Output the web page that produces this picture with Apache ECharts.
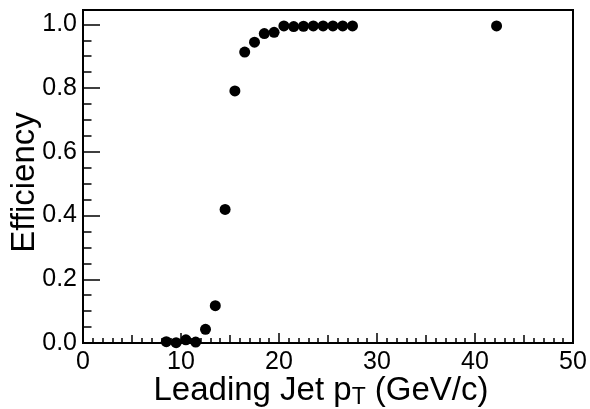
<!DOCTYPE html>
<html>
<head>
<meta charset="utf-8">
<script src="https://cdn.jsdelivr.net/npm/echarts@6/dist/echarts.min.js"></script>
<style>
html,body{margin:0;padding:0;background:#fff;}
#c{width:590px;height:409px;}
</style>
</head>
<body>
<div id="c"></div>
<script>
// Data
const ptValues = [8.5, 9.5, 10.5, 11.5, 12.5, 13.5, 14.5, 15.5, 16.5, 17.5, 18.5, 19.5, 20.5, 21.5, 22.5, 23.5, 24.5, 25.5, 26.5, 27.5, 42.2];
const efficiency = [0.004, 0.001, 0.010, 0.003, 0.043, 0.117, 0.419, 0.791, 0.913, 0.944, 0.971, 0.975, 0.995, 0.993, 0.994, 0.995, 0.995, 0.995, 0.995, 0.995, 0.995];
const xRange = [0, 50];
const yRange = [0, 1.045];
const xTitle = 'Leading Jet p';
const xTitleSub = 'T';
const xTitleTail = ' (GeV/c)';
const yTitle = 'Efficiency';

const FONT = '"Liberation Sans", Arial, Helvetica, sans-serif';
const chart = echarts.init(document.getElementById('c'), null, {renderer: 'canvas'});

const points = ptValues.map((x, i) => [x, efficiency[i]]);

function tickAxisX(interval, len, extra) {
  return Object.assign({
    type: 'value', min: xRange[0], max: xRange[1], interval: interval,
    position: 'bottom',
    axisLine: {show: false},
    axisTick: {show: true, inside: true, length: len, lineStyle: {color: '#000', width: 1.5}},
    axisLabel: {show: false},
    splitLine: {show: false}
  }, extra || {});
}
function tickAxisY(interval, len, extra) {
  return Object.assign({
    type: 'value', min: yRange[0], max: yRange[1], interval: interval,
    position: 'left',
    axisLine: {show: false},
    axisTick: {show: true, inside: true, length: len, lineStyle: {color: '#000', width: 1.5}},
    axisLabel: {show: false},
    splitLine: {show: false}
  }, extra || {});
}

const option = {
  animation: false,
  backgroundColor: '#fff',
  grid: {left: 83, right: 17, top: 10, bottom: 66, containLabel: false, outerBoundsMode: 'none',
    show: true, borderColor: '#000', borderWidth: 2, backgroundColor: 'transparent'},
  xAxis: [
    tickAxisX(10, 10, {
      axisLine: {show: true, onZero: false, lineStyle: {color: '#000', width: 2}},
      axisLabel: {show: true, color: '#000', fontFamily: FONT, fontSize: 25, margin: 7,
        formatter: v => (Math.abs(v / 10 - Math.round(v / 10)) < 1e-6 ? String(v) : '')},
      name: '{m|' + xTitle + '}{s|' + xTitleSub + '}{m|' + xTitleTail + '}',
      nameLocation: 'middle', nameGap: 30, nameMoveOverlap: false,
      nameTextStyle: {color: '#000', fontFamily: FONT, padding: [0, 14, 0, 0],
        rich: {
          m: {fontSize: 33, fontFamily: FONT, color: '#000', lineHeight: 36},
          s: {fontSize: 23, fontFamily: FONT, color: '#000', verticalAlign: 'bottom', lineHeight: 36, padding: [12, 0, 0, 0]}
        }}
    }),
    tickAxisX(5, 8),
    tickAxisX(1, 5)
  ],
  yAxis: [
    tickAxisY(0.2, 17, {
      axisLine: {show: true, onZero: false, lineStyle: {color: '#000', width: 2}},
      axisLabel: {show: true, color: '#000', fontFamily: FONT, fontSize: 25, margin: 6,
        formatter: v => (Math.abs(v / 0.2 - Math.round(v / 0.2)) < 1e-6 ? v.toFixed(1) : '')},
      name: yTitle, nameLocation: 'middle', nameGap: 42, nameMoveOverlap: false,
      nameTextStyle: {color: '#000', fontFamily: FONT, fontSize: 33, padding: [0, 12, 0, 0]}
    }),
    tickAxisY(0.05, 8.5)
  ],
  series: [{
    type: 'scatter',
    xAxisIndex: 0, yAxisIndex: 0,
    data: points,
    symbol: 'circle', symbolSize: 11,
    itemStyle: {color: '#000', opacity: 1},
    clip: false
  }]
};
chart.setOption(option);
</script>
</body>
</html>
